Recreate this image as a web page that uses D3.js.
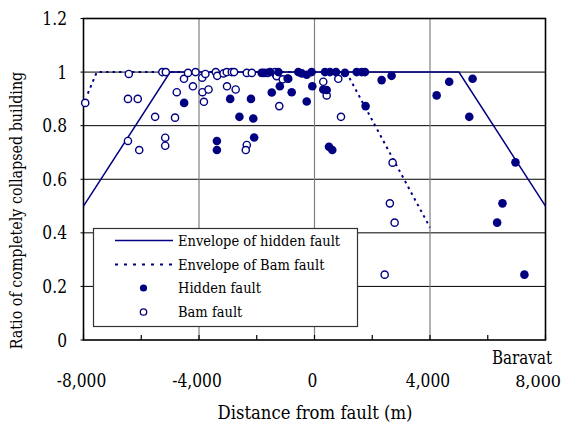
<!DOCTYPE html>
<html>
<head>
<meta charset="utf-8">
<script src="https://cdn.jsdelivr.net/npm/d3@7/dist/d3.min.js"></script>
<style>
  html, body { margin: 0; padding: 0; background: #fff; }
  svg { display: block; }
  svg text { font-family: "DejaVu Serif", serif; fill: #000; }
</style>
</head>
<body>
<svg id="chart" width="567" height="434"></svg>
<script>
// Hidden fault observations: distance from fault (m) and collapse ratio
const hiddenDistance = [-4515, -2920, -2600, -3380, -3380, -2200, -2120, -1830, -1750, -1480,
  -1200, -2090, -910, -790, -270, -76, -1540, -1250, -560, -440,
  -270, -100, 363, 536, 744, 1055, 1460, 1633, 1747, 304,
  422, 502, 616, 2325, 1770, 2670, 4230, 4665, 5475, 5360,
  6960, 6510, 6325, 7270];
const hiddenRatio = [0.885, 0.90, 0.833, 0.743, 0.709, 0.90, 0.827, 0.997, 0.997, 0.924,
  0.947, 0.756, 0.975, 0.925, 0.89, 0.947, 1.0, 1.0, 1.0, 0.995,
  0.99, 1.0, 1.0, 1.0, 1.0, 0.997, 1.0, 1.0, 1.0, 0.935,
  0.933, 0.721, 0.709, 0.97, 0.873, 0.986, 0.913, 0.964, 0.975, 0.833,
  0.663, 0.51, 0.438, 0.244];

// Bam fault observations
const bamDistance = [-7940, -6430, -6460, -6120, -6460, -6070, -5520, -4830, -5170, -5170,
  -5270, -5150, -4770, -4520, -4380, -4210, -4120, -3890, -3780, -3880,
  -3670, -3830, -3420, -3370, -3150, -3040, -2865, -2785, -3030, -2730,
  -2345, -2170, -1630, -1330, -1220, -2345, -2380, -1367, -1310, -1100,
  -930, 304, 422, 824, 917, 2705, 2610, 2775, 2430];
const bamRatio = [0.885, 0.993, 0.90, 0.90, 0.743, 0.709, 0.833, 0.83, 0.755, 0.725,
  1.0, 1.0, 0.925, 0.975, 0.997, 0.947, 1.0, 0.979, 0.993, 0.925,
  0.935, 0.889, 1.0, 0.986, 0.995, 1.0, 1.0, 1.0, 0.947, 0.935,
  0.997, 0.997, 0.997, 0.989, 0.873, 0.728, 0.709, 1.0, 0.985, 0.973,
  0.976, 0.964, 0.913, 0.975, 0.833, 0.662, 0.51, 0.438, 0.244];

// Envelope polylines
const hiddenEnvX = [-8000, -5000, 5000, 8000];
const hiddenEnvY = [0.5, 1.0, 1.0, 0.5];
const bamEnvX = [-7850, -7540, 1100, 4000];
const bamEnvY = [0.92, 1.0, 1.0, 0.42];

const xTicks = [-8000, -4000, 0, 4000, 8000];
const xMinorTicks = [-6000, -2000, 2000, 6000];
const yTicks = [0, 0.2, 0.4, 0.6, 0.8, 1.0, 1.2];
const yTickLabels = ["0", "0.2", "0.4", "0.6", "0.8", "1", "1.2"];

const legendLabels = ["Envelope of hidden fault", "Envelope of Bam fault", "Hidden fault", "Bam fault"];

const navy = "#000080";
const svg = d3.select("#chart");
const W = 567;

const x = d3.scaleLinear().domain([-8000, 8000]).range([83.5, 545.5]);
const y = d3.scaleLinear().domain([0, 1.2]).range([340, 18.5]);
// thousands separator with a plain hyphen for negatives
const fmt = d => d3.format(",")(d).replace("\u2212", "-");

// squeeze text horizontally so the wide serif keeps a Times-like width
function condense(sel, k) {
  sel.each(function () {
    const w = this.getComputedTextLength();
    d3.select(this).attr("textLength", w * k).attr("lengthAdjust", "spacingAndGlyphs");
  });
}

// horizontal gridlines
svg.append("g").selectAll("line").data(yTicks.slice(1, -1)).join("line")
  .attr("x1", x(-8000)).attr("x2", x(8000))
  .attr("y1", d => y(d)).attr("y2", d => y(d))
  .attr("stroke", "#000").attr("stroke-width", 1);

// vertical gridlines
svg.append("g").selectAll("line").data(xTicks.slice(1, -1)).join("line")
  .attr("x1", d => x(d)).attr("x2", d => x(d))
  .attr("y1", y(0)).attr("y2", y(1.2))
  .attr("stroke", "#808080").attr("stroke-width", 1.2);

// plot frame
svg.append("rect")
  .attr("x", x(-8000)).attr("y", y(1.2))
  .attr("width", x(8000) - x(-8000)).attr("height", y(0) - y(1.2))
  .attr("fill", "none").attr("stroke", "#000").attr("stroke-width", 1.6);

// x ticks (inside, pointing up)
svg.append("g").selectAll("line").data(xTicks.concat(xMinorTicks)).join("line")
  .attr("x1", d => x(d)).attr("x2", d => x(d))
  .attr("y1", y(0)).attr("y2", y(0) - 5)
  .attr("stroke", "#000").attr("stroke-width", 1.2);

// y ticks (outside)
svg.append("g").selectAll("line").data(yTicks).join("line")
  .attr("x1", x(-8000) - 3).attr("x2", x(-8000))
  .attr("y1", d => y(d)).attr("y2", d => y(d))
  .attr("stroke", "#000").attr("stroke-width", 1);

// tick labels; the last one sits right-aligned inside the page edge
const lastTick = xTicks.length - 1;
svg.append("g").selectAll("text").data(xTicks.slice(0, lastTick)).join("text")
  .attr("x", d => x(d) - 2).attr("y", 387)
  .attr("text-anchor", "middle").attr("font-size", 18)
  .text(d => fmt(d))
  .call(condense, 0.86);
svg.append("text")
  .attr("x", W - 6).attr("y", 387)
  .attr("text-anchor", "end").attr("font-size", 16)
  .text(fmt(xTicks[lastTick]));

svg.append("g").selectAll("text").data(yTicks).join("text")
  .attr("x", 67).attr("y", d => y(d) + 6.5)
  .attr("text-anchor", "end").attr("font-size", 18)
  .text((d, i) => yTickLabels[i])
  .call(condense, 0.86);

svg.append("text").attr("x", 552).attr("y", 364)
  .attr("text-anchor", "end").attr("font-size", 18).text("Baravat")
  .call(condense, 0.84);

// axis titles
svg.append("text").attr("x", 315).attr("y", 419)
  .attr("text-anchor", "middle").attr("font-size", 18)
  .text("Distance from fault (m)")
  .call(condense, 0.915);

svg.append("text")
  .attr("transform", `translate(22, 210.5) rotate(-90)`)
  .attr("text-anchor", "middle").attr("font-size", 17)
  .text("Ratio of completely collapsed building")
  .call(condense, 0.84);

// envelopes
const line = d3.line().x(d => x(d[0])).y(d => y(d[1]));
svg.append("path")
  .datum(bamEnvX.map((v, i) => [v, bamEnvY[i]]))
  .attr("d", line).attr("fill", "none")
  .attr("stroke", navy).attr("stroke-width", 2).attr("stroke-dasharray", "2.5,4");
svg.append("path")
  .datum(hiddenEnvX.map((v, i) => [v, hiddenEnvY[i]]))
  .attr("d", line).attr("fill", "none")
  .attr("stroke", navy).attr("stroke-width", 1.5);

// data points
svg.append("g").selectAll("circle").data(d3.range(bamDistance.length)).join("circle")
  .attr("cx", i => x(bamDistance[i])).attr("cy", i => y(bamRatio[i]))
  .attr("r", 3.6).attr("fill", "#fff")
  .attr("stroke", navy).attr("stroke-width", 1.4);

svg.append("g").selectAll("circle").data(d3.range(hiddenDistance.length)).join("circle")
  .attr("cx", i => x(hiddenDistance[i])).attr("cy", i => y(hiddenRatio[i]))
  .attr("r", 4.3).attr("fill", navy);

// legend
const lg = svg.append("g");
lg.append("rect").attr("x", 93.5).attr("y", 228.5).attr("width", 264).attr("height", 98)
  .attr("fill", "#fff").attr("stroke", "#333").attr("stroke-width", 1.2);
const rowY = [240.5, 264.5, 288, 312];
lg.append("line").attr("x1", 115).attr("x2", 173).attr("y1", rowY[0]).attr("y2", rowY[0])
  .attr("stroke", navy).attr("stroke-width", 1.5);
lg.append("line").attr("x1", 115).attr("x2", 173).attr("y1", rowY[1]).attr("y2", rowY[1])
  .attr("stroke", navy).attr("stroke-width", 2).attr("stroke-dasharray", "3,6");
lg.append("circle").attr("cx", 143.5).attr("cy", rowY[2]).attr("r", 3.6).attr("fill", navy);
lg.append("circle").attr("cx", 143.5).attr("cy", rowY[3]).attr("r", 3.2)
  .attr("fill", "#fff").attr("stroke", navy).attr("stroke-width", 1.3);
lg.selectAll("text.lab").data(legendLabels).join("text")
  .attr("class", "lab")
  .attr("x", 178).attr("y", (d, i) => rowY[i] + 5)
  .attr("font-size", 14.5).text(d => d)
  .call(condense, 0.9);
</script>
</body>
</html>
